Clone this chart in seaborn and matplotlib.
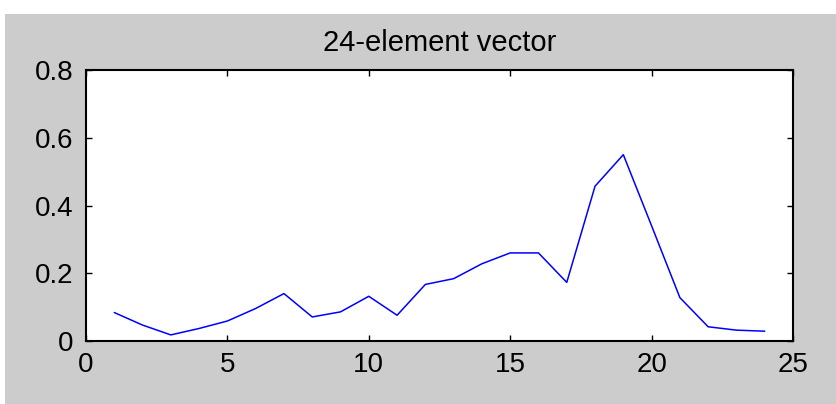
import numpy as np
import pandas as pd
import matplotlib
matplotlib.use("Agg")
import matplotlib.pyplot as plt
import seaborn as sns

# values
index = list(range(1, 25))
values = [0.084, 0.047, 0.018, 0.037, 0.059, 0.096, 0.140, 0.071,
          0.086, 0.132, 0.076, 0.167, 0.184, 0.228, 0.260, 0.260,
          0.173, 0.457, 0.550, 0.340, 0.128, 0.042, 0.032, 0.029]
title = "24-element vector"
xticks = [0, 5, 10, 15, 20, 25]
yticks = [0, 0.2, 0.4, 0.6, 0.8]

sns.set_style("white")
plt.rcParams['font.family'] = ['Liberation Sans', 'DejaVu Sans']

df = pd.DataFrame({'n': index, 'v': values})

fig = plt.figure(figsize=(8.36, 4.04), dpi=100, facecolor='white')
# grey MATLAB-style figure background, white strip at top and left
fig.patches.append(plt.Rectangle((5 / 836, 0), 1, (404 - 14) / 404,
                                 transform=fig.transFigure, facecolor='#cccccc',
                                 edgecolor='none', zorder=-1))
ax = fig.add_axes([86 / 836, 63 / 404, (793 - 86) / 836, (341 - 70) / 404])
ax.set_facecolor('white')

sns.lineplot(data=df, x='n', y='v', ax=ax, color='#0000ff', linewidth=1.1)

ax.set_xlim(0, 25)
ax.set_ylim(0, 0.8)
ax.set_xticks(xticks)
ax.set_yticks(yticks)
ax.set_xticklabels([str(t) for t in xticks])
ax.set_yticklabels(['0', '0.2', '0.4', '0.6', '0.8'])
ax.set_xlabel('')
ax.set_ylabel('')
ax.set_title(title, fontsize=21, pad=14, color='black')
ax.tick_params(direction='in', length=4, width=1, labelsize=20,
               top=True, right=True, bottom=True, left=True, colors='black')
ax.tick_params(axis='y', pad=9)
ax.tick_params(axis='x', pad=8)
for s in ax.spines.values():
    s.set_visible(True)
    s.set_color('black')
    s.set_linewidth(1.5)

fig.savefig('out.png', dpi=100)
